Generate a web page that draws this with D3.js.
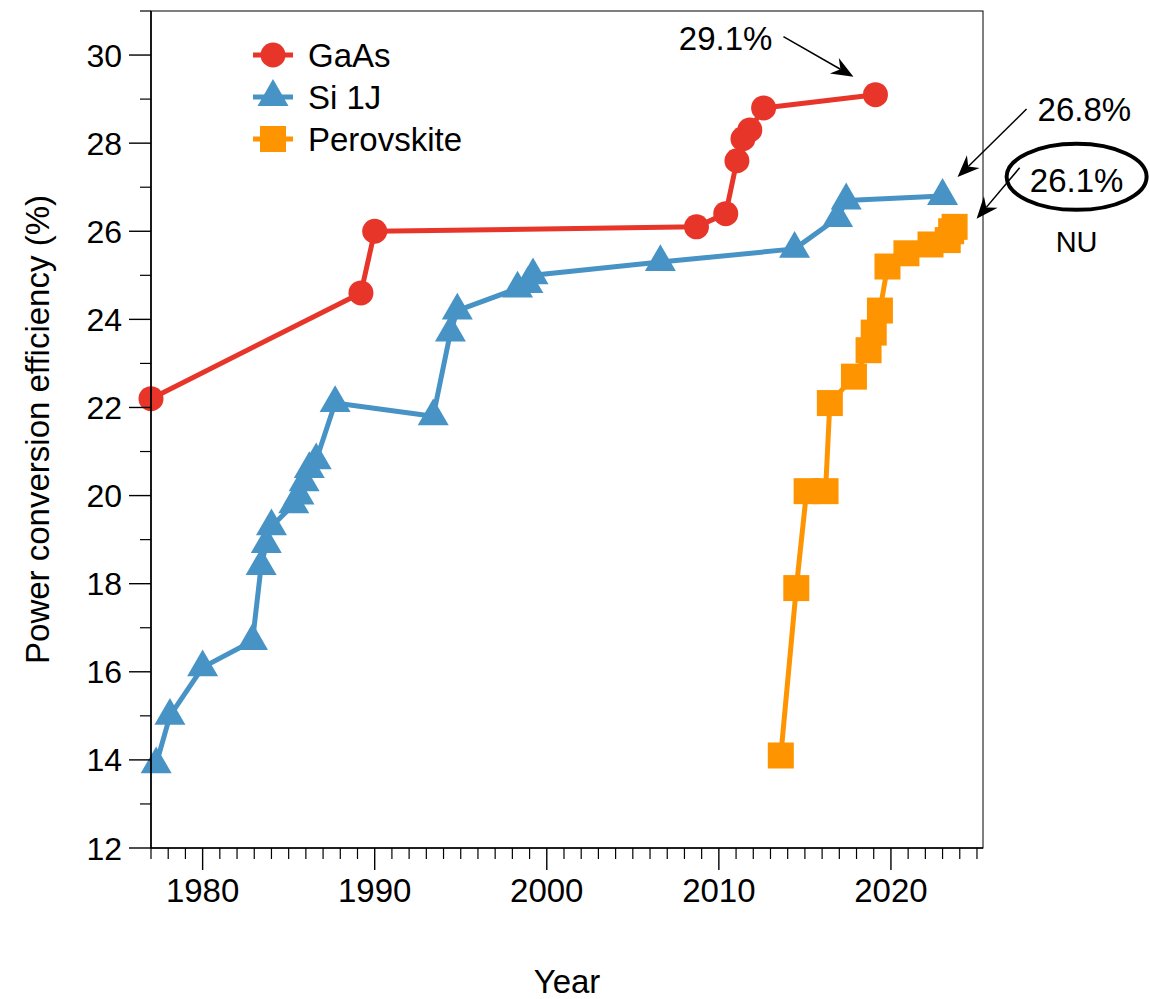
<!DOCTYPE html>
<html>
<head>
<meta charset="utf-8">
<script src="https://cdn.jsdelivr.net/npm/d3@7"></script>
<style>
  html, body { margin: 0; padding: 0; background: #fff; }
  svg { display: block; font-family: "Liberation Sans", Arial, Helvetica, sans-serif; }
</style>
</head>
<body>
<svg id="chart" width="1150" height="999"></svg>
<script>
// Record cell efficiencies over time
const gaasYears = [1977.0, 1989.2, 1990.0, 2008.7, 2010.4, 2011.05, 2011.4, 2011.8, 2012.6, 2019.1];
const gaasEff   = [22.2, 24.6, 26.0, 26.1, 26.4, 27.6, 28.1, 28.3, 28.8, 29.1];

const siYears = [1977.3, 1978.1, 1980.0, 1982.9, 1983.4, 1983.7, 1984.0, 1985.3, 1985.6, 1985.9, 1986.2, 1986.6,
                 1987.7, 1993.4, 1994.4, 1994.8, 1998.3, 1998.9, 1999.2, 2006.6, 2014.4, 2016.9, 2017.4, 2023.0];
const siEff   = [13.9, 15.0, 16.1, 16.7, 18.4, 18.9, 19.3, 19.8, 20.0, 20.3, 20.6, 20.8,
                 22.1, 21.8, 23.7, 24.2, 24.7, 24.8, 25.0, 25.3, 25.6, 26.3, 26.7, 26.8];

const pvkYears = [2013.6, 2014.5, 2015.1, 2016.2, 2016.45, 2017.85, 2018.7, 2019.0, 2019.36, 2019.8, 2020.9, 2022.3, 2023.3, 2023.5, 2023.7];
const pvkEff   = [14.1, 17.9, 20.1, 20.1, 22.1, 22.7, 23.3, 23.7, 24.2, 25.2, 25.5, 25.7, 25.8, 26.0, 26.1];

const seriesNames = ["GaAs", "Si 1J", "Perovskite"];
const xTickLabels = [1980, 1990, 2000, 2010, 2020];
const yTickLabels = [12, 14, 16, 18, 20, 22, 24, 26, 28, 30];

const colors = { "GaAs": "#e8352a", "Si 1J": "#4793c5", "Perovskite": "#fe9400" };
const shapes = { "GaAs": "circle", "Si 1J": "triangle", "Perovskite": "square" };

const series = [
  { name: "GaAs", pts: gaasYears.map((x, i) => ({ x, y: gaasEff[i] })) },
  { name: "Si 1J", pts: siYears.map((x, i) => ({ x, y: siEff[i] })) },
  { name: "Perovskite", pts: pvkYears.map((x, i) => ({ x, y: pvkEff[i] })) }
];

const svg = d3.select("#chart");
const plotL = 151, plotR = 983, plotT = 11, plotB = 848;

const x = d3.scaleLinear().domain([1977, 2025.35]).range([plotL, plotR]);
const y = d3.scaleLinear().domain([12, 31]).range([plotB, plotT]);

// marker shapes
function markerPath(shape) {
  if (shape === "circle") return d3.symbol(d3.symbolCircle, Math.PI * 12.5 * 12.5)();
  if (shape === "square") { const h = 13; return `M${-h},${-h}H${h}V${h}H${-h}Z`; }
  // equilateral triangle, centroid at origin
  const s = 31, hgt = s * Math.sqrt(3) / 2;
  return `M0,${-2 * hgt / 3}L${s / 2},${hgt / 3}L${-s / 2},${hgt / 3}Z`;
}

const line = d3.line().x(d => x(d.x)).y(d => y(d.y));

const plot = svg.append("g");
series.forEach(s => {
  const g = plot.append("g");
  g.append("path").datum(s.pts)
    .attr("d", line).attr("fill", "none")
    .attr("stroke", colors[s.name]).attr("stroke-width", 5)
    .attr("stroke-linejoin", "round");
  g.selectAll("path.m").data(s.pts).join("path").attr("class", "m")
    .attr("d", markerPath(shapes[s.name]))
    .attr("transform", d => `translate(${x(d.x)},${y(d.y)})`)
    .attr("fill", colors[s.name]);
});

// frame
svg.append("rect").attr("x", plotL).attr("y", plotT)
  .attr("width", plotR - plotL).attr("height", plotB - plotT)
  .attr("fill", "none").attr("stroke", "#000").attr("stroke-width", 1);

// y axis
const yMinor = d3.range(13, 32, 2);
const yAxis = svg.append("g");
yAxis.append("line").attr("x1", plotL).attr("x2", plotL).attr("y1", plotT).attr("y2", plotB)
  .attr("stroke", "#000").attr("stroke-width", 1.6);
yAxis.selectAll("line.maj").data(yTickLabels).join("line").attr("class", "maj")
  .attr("x1", plotL - 22).attr("x2", plotL).attr("y1", d => y(d)).attr("y2", d => y(d))
  .attr("stroke", "#000").attr("stroke-width", 1.4);
yAxis.selectAll("line.min").data(yMinor).join("line").attr("class", "min")
  .attr("x1", plotL - 11).attr("x2", plotL).attr("y1", d => y(d)).attr("y2", d => y(d))
  .attr("stroke", "#000").attr("stroke-width", 1.2);
yAxis.selectAll("text").data(yTickLabels).join("text")
  .attr("x", plotL - 29).attr("y", d => y(d)).attr("dy", "0.36em")
  .attr("text-anchor", "end").attr("font-size", 32).text(d => d);

// x axis
const xMinor = d3.range(1977, 2026).filter(v => v % 10 !== 0);
const xAxis = svg.append("g");
xAxis.append("line").attr("x1", plotL).attr("x2", plotR).attr("y1", plotB).attr("y2", plotB)
  .attr("stroke", "#000").attr("stroke-width", 1.6);
xAxis.selectAll("line.maj").data(xTickLabels).join("line").attr("class", "maj")
  .attr("x1", d => x(d)).attr("x2", d => x(d)).attr("y1", plotB).attr("y2", plotB + 22)
  .attr("stroke", "#000").attr("stroke-width", 1.4);
xAxis.selectAll("line.min").data(xMinor).join("line").attr("class", "min")
  .attr("x1", d => x(d)).attr("x2", d => x(d)).attr("y1", plotB).attr("y2", plotB + 11)
  .attr("stroke", "#000").attr("stroke-width", 1.2);
xAxis.selectAll("text").data(xTickLabels).join("text")
  .attr("x", d => x(d)).attr("y", plotB + 54)
  .attr("text-anchor", "middle").attr("font-size", 33).text(d => d);

// axis titles
svg.append("text").attr("x", (plotL + plotR) / 2).attr("y", 993)
  .attr("text-anchor", "middle").attr("font-size", 33).text("Year");
svg.append("text").attr("transform", `translate(49,${(plotT + plotB) / 2}) rotate(-90)`)
  .attr("text-anchor", "middle").attr("font-size", 33).text("Power conversion efficiency (%)");

// legend
const legend = svg.append("g").attr("transform", "translate(253,55)");
seriesNames.forEach((name, i) => {
  const g = legend.append("g").attr("transform", `translate(0,${i * 42})`);
  g.append("line").attr("x1", 0).attr("x2", 40).attr("stroke", colors[name]).attr("stroke-width", 5);
  g.append("path").attr("d", markerPath(shapes[name])).attr("transform", "translate(20,0)").attr("fill", colors[name]);
  g.append("text").attr("x", 55).attr("dy", "0.36em").attr("font-size", 33).text(name);
});

// annotations with arrows
function arrow(x1, y1, x2, y2) {
  const ang = Math.atan2(y2 - y1, x2 - x1);
  const L = 22, W = 9, notch = 15;
  const ca = Math.cos(ang), sa = Math.sin(ang);
  const bx = x2 - L * ca, by = y2 - L * sa;
  const nx = x2 - notch * ca, ny = y2 - notch * sa;
  svg.append("line").attr("x1", x1).attr("y1", y1).attr("x2", nx).attr("y2", ny)
    .attr("stroke", "#000").attr("stroke-width", 1.5);
  svg.append("path")
    .attr("d", `M${x2},${y2}L${bx - W * sa},${by + W * ca}L${nx},${ny}L${bx + W * sa},${by - W * ca}Z`)
    .attr("fill", "#000");
}

const gLast = series[0].pts[series[0].pts.length - 1];
const sLast = series[1].pts[series[1].pts.length - 1];
const pLast = series[2].pts[series[2].pts.length - 1];

const gx = x(gLast.x), gy = y(gLast.y);
arrow(gx - 92, gy - 58, gx - 22, gy - 18);
svg.append("text").attr("x", gx - 103).attr("y", gy - 45).attr("text-anchor", "end")
  .attr("font-size", 33).text(d3.format(".1f")(gLast.y) + "%");

const sx = x(sLast.x), sy = y(sLast.y);
arrow(sx + 84, sy - 87, sx + 15, sy - 19);
svg.append("text").attr("x", sx + 95).attr("y", sy - 75).attr("text-anchor", "start")
  .attr("font-size", 33).text(d3.format(".1f")(sLast.y) + "%");

const px = x(pLast.x), py = y(pLast.y);
arrow(px + 65, py - 59, px + 22, py - 8);
svg.append("ellipse").attr("cx", px + 122).attr("cy", py - 50).attr("rx", 70).attr("ry", 33)
  .attr("fill", "none").attr("stroke", "#000").attr("stroke-width", 4);
svg.append("text").attr("x", px + 122).attr("y", py - 35).attr("text-anchor", "middle")
  .attr("font-size", 33).text(d3.format(".1f")(pLast.y) + "%");
svg.append("text").attr("x", px + 122).attr("y", py + 25).attr("text-anchor", "middle")
  .attr("font-size", 29).text("NU");
</script>
</body>
</html>
